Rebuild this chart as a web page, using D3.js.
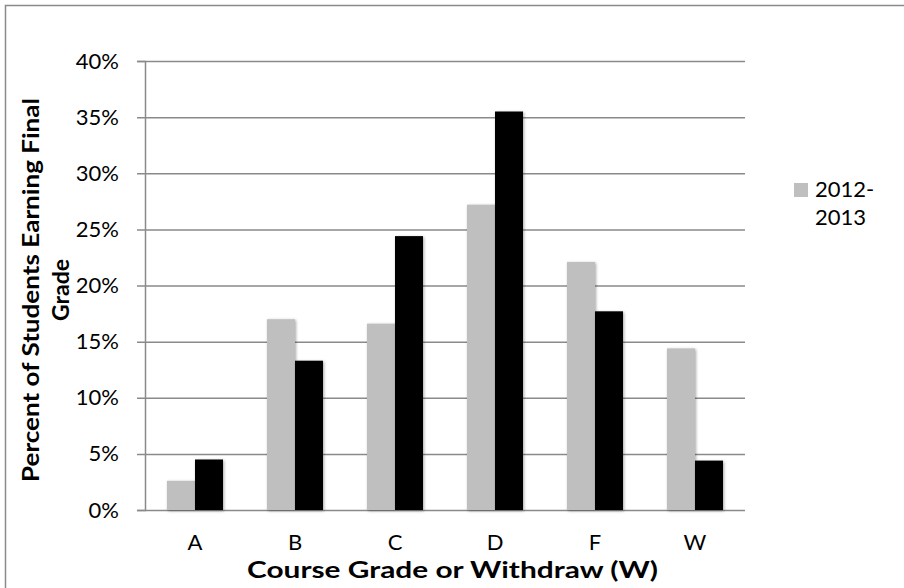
<!DOCTYPE html>
<html>
<head>
<meta charset="utf-8">
<script src="https://cdn.jsdelivr.net/npm/d3@7"></script>
<style>
  html, body { margin: 0; padding: 0; background: #fff; }
  svg { display: block; }
  text { font-family: Lato, "Open Sans", sans-serif; fill: #000; }
</style>
</head>
<body>
<script>
const categories = ["A", "B", "C", "D", "F", "W"];
const seriesNames = ["2012-2013", "2013-2014"];
const values2012 = [2.6, 17.0, 16.6, 27.2, 22.1, 14.4];
const values2013 = [4.5, 13.3, 24.4, 35.5, 17.7, 4.4];
const yTicks = [0, 5, 10, 15, 20, 25, 30, 35, 40];
const legendLines = ["2012-", "2013"];
const xTitle = "Course Grade or Withdraw (W)";
const yTitleLines = ["Percent of Students Earning Final", "Grade"];

const W = 904, H = 588;
const svg = d3.select("body").append("svg").attr("width", W).attr("height", H);

const defs = svg.append("defs");
const f = defs.append("filter").attr("id", "shadow").attr("x", "-20%").attr("y", "-20%").attr("width", "140%").attr("height", "140%");
f.append("feDropShadow").attr("dx", 1).attr("dy", 1).attr("stdDeviation", 1.5).attr("flood-color", "#000").attr("flood-opacity", 0.35);

// outer border (top and left visible)
svg.append("path").attr("d", `M5.5,${H} L5.5,5.5 L${W},5.5`).attr("fill", "none").attr("stroke", "#8a8a8a").attr("stroke-width", 1.5);

const plot = { left: 145, right: 745, top: 61, bottom: 510 };

const x = d3.scaleBand().domain(categories).range([plot.left, plot.right]).paddingInner(0.44).paddingOuter(0.22);
const y = d3.scaleLinear().domain([0, 40]).range([plot.bottom, plot.top]);
const xSub = d3.scaleBand().domain(seriesNames).range([0, x.bandwidth()]);
const colors = d3.scaleOrdinal().domain(seriesNames).range(["#bfbfbf", "#000000"]);

// y axis + gridlines
const yAxis = d3.axisLeft(y).tickValues(yTicks).tickFormat(d => d + "%").tickSize(8).tickPadding(18);
const gy = svg.append("g").attr("transform", `translate(${plot.left},0)`).call(yAxis);
gy.select(".domain").attr("stroke", "#8a8a8a").attr("stroke-width", 1.5);
gy.selectAll(".tick line").attr("stroke", "#8a8a8a").attr("stroke-width", 1.5)
  .attr("x2", plot.right - plot.left).attr("x1", -8);
gy.selectAll(".tick text").attr("font-size", 22).attr("font-family", "Lato").attr("fill", "#000");

// bars
const data = categories.map((c, i) => ({ cat: c, vals: [values2012[i], values2013[i]] }));
const groups = svg.append("g").selectAll("g").data(data).join("g")
  .attr("transform", d => `translate(${x(d.cat)},0)`);
groups.selectAll("rect").data(d => d.vals.map((v, j) => ({ name: seriesNames[j], v })))
  .join("rect")
  .attr("x", d => xSub(d.name))
  .attr("width", xSub.bandwidth())
  .attr("y", d => y(d.v))
  .attr("height", d => y(0) - y(d.v))
  .attr("fill", d => colors(d.name))
  .attr("filter", "url(#shadow)");

// x axis labels
const xAxis = d3.axisBottom(x).tickSize(0).tickPadding(24.4);
const gx = svg.append("g").attr("transform", `translate(0,${plot.bottom})`).call(xAxis);
gx.select(".domain").remove();
gx.selectAll(".tick text").attr("font-size", 22).attr("font-family", "Lato").attr("fill", "#000");

// axis titles
svg.append("text").attr("x", 452.5).attr("y", 578).attr("text-anchor", "middle")
  .attr("font-size", 23).attr("font-weight", "bold")
  .attr("textLength", 411).attr("lengthAdjust", "spacingAndGlyphs").text(xTitle);

const yt = svg.append("g").attr("transform", "translate(0,290) rotate(-90)");
yTitleLines.forEach((t, i) => {
  const el = yt.append("text").attr("x", 0).attr("y", 39 + i * 30).attr("text-anchor", "middle")
    .attr("font-size", 23).attr("font-weight", "bold").text(t);
  if (i === 0) el.attr("textLength", 384).attr("lengthAdjust", "spacingAndGlyphs");
});

// legend
svg.append("rect").attr("x", 794).attr("y", 183).attr("width", 14).attr("height", 14).attr("fill", colors(seriesNames[0]));
legendLines.forEach((t, i) => {
  svg.append("text").attr("x", 815).attr("y", 197 + i * 28).attr("font-size", 22).text(t);
});
</script>
</body>
</html>
